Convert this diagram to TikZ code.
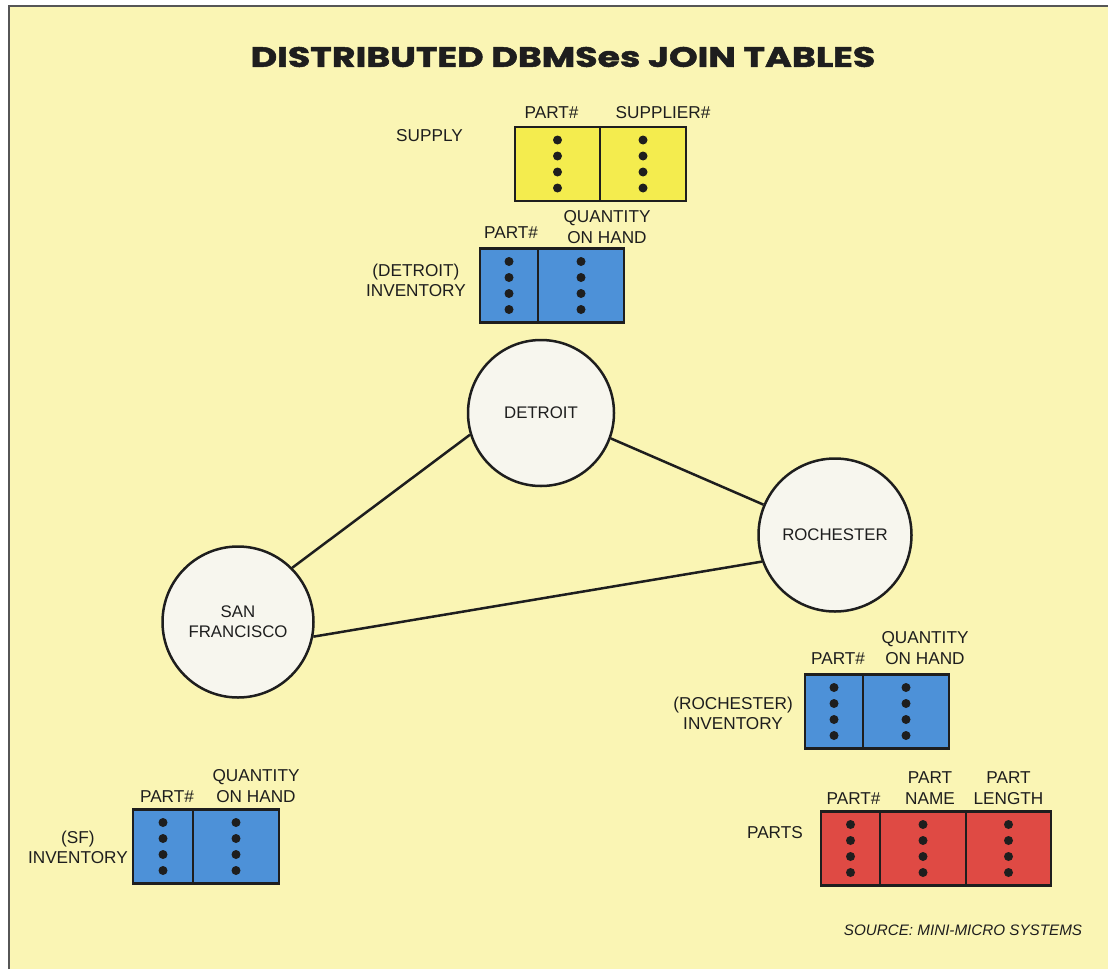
\documentclass[tikz,border=0pt]{standalone}
\usepackage{fontspec}
\setmainfont{Liberation Sans}
\newfontfamily\titlefont{Poppins}[BoldFeatures={FakeBold=1.6}]
\usepackage{tikz}
\usetikzlibrary{positioning}
\definecolor{paper}{HTML}{FAF5B4}
\definecolor{tb-yellow}{HTML}{F4EC4E}
\definecolor{tb-blue}{HTML}{4D91D8}
\definecolor{tb-red}{HTML}{DF4A44}
\definecolor{ink}{HTML}{1E1E1E}
\definecolor{disk}{HTML}{F7F6EE}

\tikzset{
  cell/.style={draw=ink, line width=2.5pt, minimum height=74pt, inner sep=0pt, outer sep=0pt},
  narrow/.style={cell, minimum width=58pt},
  wide/.style={cell, minimum width=86pt},
  colhead/.style={font=\fontsize{17.2}{21}\selectfont, align=center, inner sep=0pt, text depth=0pt, text=ink},
  tablename/.style={colhead, font=\fontsize{17.2}{20}\selectfont},
  site/.style={circle, draw=ink, line width=2.5pt, fill=disk, align=center, text=ink,
    font=\fontsize{16.8}{20}\selectfont},
  link/.style={draw=ink, line width=2.5pt}
}

\begin{document}
\begin{tikzpicture}[x=1pt, y=-1pt, node distance=8pt]
    \useasboundingbox (0,0) rectangle (1108,969);
    \fill[white] (0,0) rectangle (1108,969);
    \fill[paper] (9,6) rectangle (1108,969);
    \draw[ink!75, line width=2pt] (9,969) -- (9,6) -- (1108,6);

    \node[font=\titlefont\bfseries\fontsize{28}{30}\selectfont, text=ink] (title) at (563,57) {\scalebox{1.3}[1]{DISTRIBUTED DBMSes JOIN TABLES}};

    % supply
    \node[cell, minimum width=85pt, fill=tb-yellow] (sp1) at (557.5,164) {};
    \node[wide, fill=tb-yellow, right=0pt of sp1] (sp2) {};
    \node[colhead, above=of sp1, xshift=-6pt] {PART\#};
    \node[colhead, above=of sp2, xshift=20pt] {SUPPLIER\#};
    \node[tablename, left=52pt of sp1, yshift=29pt] (supply) {SUPPLY};

    % detroit inventory
    \node[narrow, fill=tb-blue] (di1) at (509,285.5) {};
    \node[wide, fill=tb-blue, right=0pt of di1] (di2) {};
    \node[colhead, above=10pt of di1, xshift=2pt] {PART\#};
    \node[colhead, above=5pt of di2, xshift=26pt] {QUANTITY\\ON HAND};
    \node[tablename, left=14pt of di1, yshift=5pt] (dinv) {(DETROIT)\\INVENTORY};

    % rochester inventory
    \node[narrow, fill=tb-blue] (ri1) at (834,711.5) {};
    \node[wide, fill=tb-blue, right=0pt of ri1] (ri2) {};
    \node[colhead, above=10pt of ri1, xshift=4pt] {PART\#};
    \node[colhead, above=10pt of ri2, xshift=19pt] {QUANTITY\\ON HAND};
    \node[tablename, left=12pt of ri1, yshift=-2pt] (rinv) {(ROCHESTER)\\INVENTORY};

    % sf inventory
    \node[cell, minimum width=60pt, fill=tb-blue] (si1) at (163,846.5) {};
    \node[wide, fill=tb-blue, right=0pt of si1] (si2) {};
    \node[colhead, above=7pt of si1, xshift=4pt] {PART\#};
    \node[colhead, above=7pt of si2, xshift=20pt] {QUANTITY\\ON HAND};
    \node[tablename, left=5pt of si1, yshift=-1pt] (sinv) {(SF)\\INVENTORY};

    % parts
    \node[cell, minimum width=59pt, fill=tb-red] (pt1) at (850.5,848.5) {};
    \node[wide, fill=tb-red, right=0pt of pt1] (pt2) {};
    \node[cell, minimum width=85pt, fill=tb-red, right=0pt of pt2] (pt3) {};
    \node[colhead, above=7pt of pt1, xshift=3pt] {PART\#};
    \node[colhead, above=7pt of pt2, xshift=7pt] {PART\\NAME};
    \node[colhead, above=7pt of pt3] {PART\\LENGTH};
    \node[tablename, left=18pt of pt1, yshift=16pt] (parts) {PARTS};

    \foreach \c in {sp1,sp2,di1,di2,ri1,ri2,si1,si2,pt1,pt2,pt3}
        \foreach \dy in {-24,-8,8,24}
            \fill[ink] ([yshift=\dy pt]\c.center) circle (4.5pt);

    % sites
    \node[site, minimum size=146pt] (det) at (541,413) {DETROIT};
    \node[site, minimum size=153pt] (roc) at (835,535) {ROCHESTER};
    \node[site, minimum size=151pt] (sf) at (238,622) {SAN\\FRANCISCO};

    \draw[link] (sf.45) -- (det.197);
    \draw[link] (det.-20) -- (roc.157);
    \draw[link] (sf.-11) -- (roc.200);

    \node[font=\itshape\fontsize{15.2}{18}\selectfont, text=ink] (source) at (963,930) {SOURCE: MINI-MICRO SYSTEMS};
\end{tikzpicture}
\end{document}
